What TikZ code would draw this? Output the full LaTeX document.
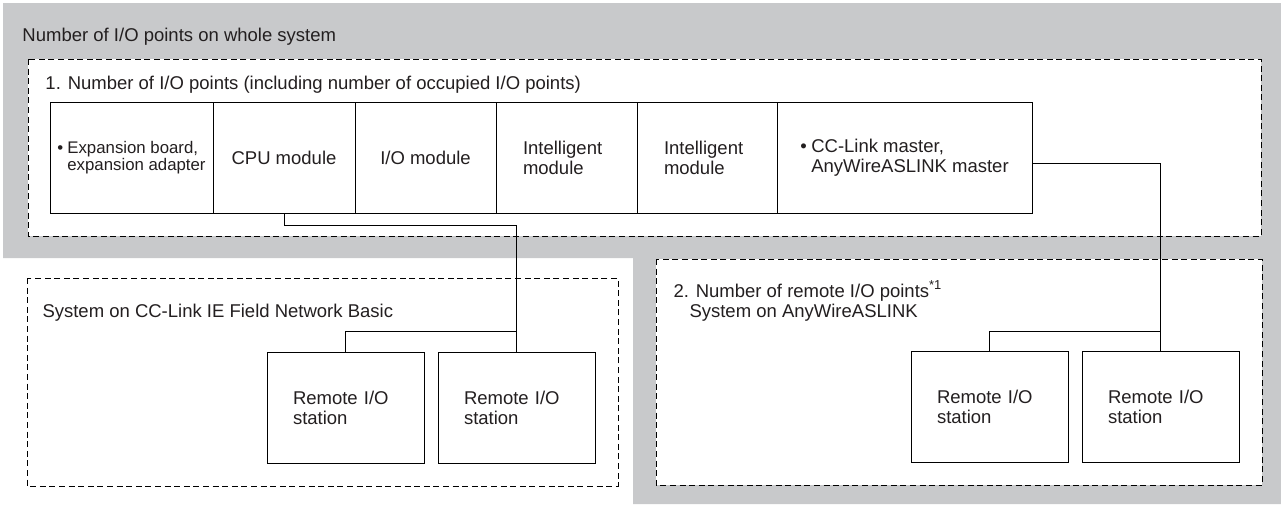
\documentclass[tikz,border=0pt]{standalone}
\usepackage{fontspec}
\setmainfont{Liberation Sans}
\usetikzlibrary{positioning}
\definecolor{szurke}{RGB}{200,201,203}
\definecolor{szoveg}{RGB}{35,31,32}
\newcommand{\pontjel}[1]{\makebox[#1][l]{\textbullet}}
\tikzset{
  modul/.style={draw,inner sep=0pt,outer sep=0pt,minimum height=55.5pt,anchor=north west},
  tavoli/.style={draw,inner sep=0pt,outer sep=0pt,minimum width=78.5pt,minimum height=55.5pt,
    text width=52.5pt,inner xsep=13pt,align=left,anchor=north west},
  keret/.style={draw,fill=white,dash pattern=on 3pt off 1.8pt},
  cim/.style={anchor=base west,inner sep=0pt},
  kis/.style={font=\fontsize{8.4}{8.8}\selectfont},
  vez/.style={draw},
}

\begin{document}
\begin{tikzpicture}[x=0.5pt,y=-0.5pt,line width=0.5pt,text=szoveg,
    font=\fontsize{9.25}{10}\selectfont]
  \useasboundingbox (0,0) rectangle (1281,504);
  \fill[szurke] (3,3) -| (1281,504) -| (633,258) -| cycle;
  \draw[keret] (28,59) rectangle (1261,236);
  \draw[keret] (27,278) rectangle (618,486);
  \draw[keret] (656,259) rectangle (1262,485);

  \node[cim] (teljes) at (22,41) {Number of I/O points on whole system};
  \node[cim] (cim1) at (45,89) {1. Number of I/O points (including number of occupied I/O points)};
  \node[cim] (cim2) at (42,317) {System on CC-Link IE Field Network Basic};
  \node[cim,align=left] (cim3) at (673,317)
    {2. Number of remote I/O points\textsuperscript{*1}\\\hspace*{8pt}System on AnyWireASLINK};

  \node[modul,kis,minimum width=81.5pt,align=left] (exp) at (50,102)
    {\pontjel{5pt}Expansion board,\\\hspace*{5pt}expansion adapter};
  \node[modul,minimum width=71pt,align=center,right=0pt of exp] (cpu) {CPU module};
  \node[modul,minimum width=70.5pt,align=center,right=0pt of cpu] (io) {I/O module};
  \node[modul,minimum width=70.5pt,text width=43.5pt,inner xsep=13.5pt,align=left,right=0pt of io] (intA)
    {Intelligent\\module};
  \node[modul,minimum width=70pt,text width=43pt,inner xsep=13.5pt,align=left,right=0pt of intA] (intB)
    {Intelligent\\module};
  \node[modul,minimum width=127.5pt,align=left,right=0pt of intB] (ccl)
    {\pontjel{5.5pt}CC-Link master,\\\hspace*{5.5pt}AnyWireASLINK master};

  \node[tavoli] (rioA) at (267,352) {Remote I/O\\station};
  \node[tavoli,anchor=west,right=7pt of rioA] (rioB) {Remote I/O\\station};
  \node[tavoli] (rioC) at (911,351) {Remote I/O\\station};
  \node[tavoli,anchor=west,right=7pt of rioC] (rioD) {Remote I/O\\station};

  \draw[vez] (cpu.south) -- ++(0,12) -| (rioB.north);
  \draw[vez] (rioA.north) -- ++(0,-21) -| (rioB.north);
  \draw[vez] ([yshift=-2.75pt]ccl.east) -| (rioD.north);
  \draw[vez] (rioC.north) -- ++(0,-20) -| (rioD.north);
\end{tikzpicture}
\end{document}
